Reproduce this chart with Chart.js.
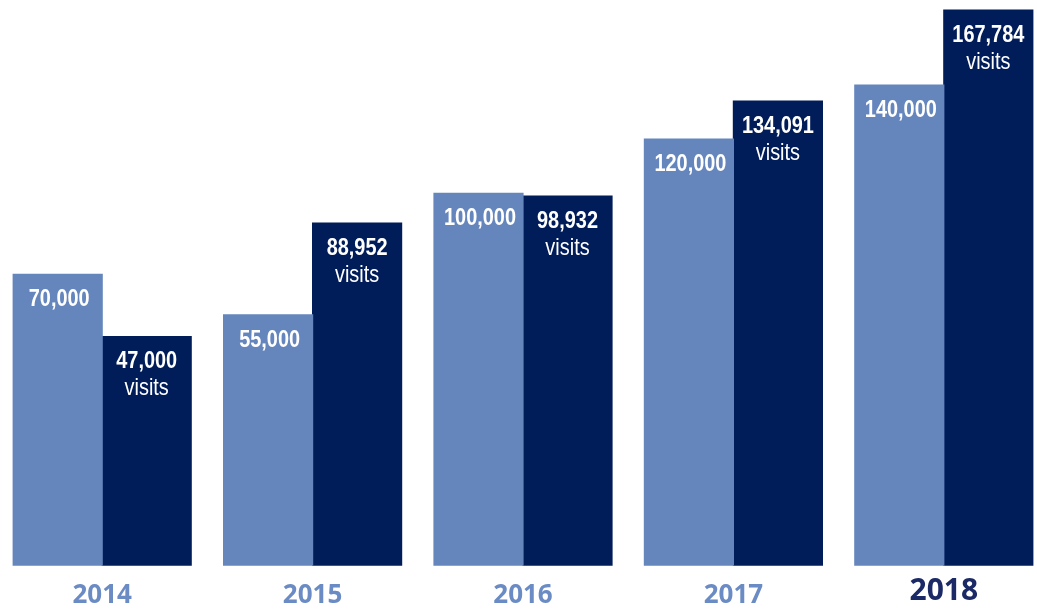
<!DOCTYPE html>
<html><head><meta charset="utf-8">
<script src="https://cdn.jsdelivr.net/npm/chart.js@4/dist/chart.umd.min.js"></script>
<style>
html,body{margin:0;padding:0;overflow:hidden;background:#fff;width:1037px;height:611px}
#wrap{position:absolute;left:-3px;top:0;width:1052px;height:611px}
</style></head><body><div id="wrap"><canvas id="c"></canvas></div>
<script>
const years = ['2014', '2015', '2016', '2017', '2018'];
const goalValues = [70000, 55000, 100000, 120000, 140000];
const visitValues = [47000, 88952, 98932, 134091, 167784];
const unitLabel = 'visits';

const LIGHT = '#6586BD';
const DARK = '#001C59';
const fmt = v => v.toLocaleString('en-US');
const LABEL_FONT = '"Liberation Sans", Arial, sans-serif';
const Y_MIN = -37850, Y_MAX = 171500;
const SQUEEZE = 0.83;

function condensedText(ctx, text, x, y) {
  ctx.save();
  ctx.translate(x, y);
  ctx.scale(SQUEEZE, 1);
  ctx.fillText(text, 0, 0);
  ctx.restore();
}

const barLabels = {
  id: 'barLabels',
  afterDatasetsDraw(chart) {
    const ctx = chart.ctx;
    ctx.save();
    ctx.fillStyle = '#ffffff';
    ctx.textAlign = 'center';
    ctx.textBaseline = 'alphabetic';
    chart.data.datasets.forEach((ds, di) => {
      const meta = chart.getDatasetMeta(di);
      meta.data.forEach((el, i) => {
        ctx.font = 'bold 24px ' + LABEL_FONT;
        condensedText(ctx, fmt(ds.data[i]), el.x + (di === 0 ? 1.5 : 0), el.y + 32);
        if (di === 1) {
          ctx.font = 'normal 24px ' + LABEL_FONT;
          condensedText(ctx, unitLabel, el.x, el.y + 59);
        }
      });
    });
    ctx.restore();
  }
};

new Chart(document.getElementById('c'), {
  type: 'bar',
  data: {
    labels: years,
    datasets: [
      { label: 'Goal', data: goalValues, backgroundColor: LIGHT, base: Y_MIN, borderWidth: 0, inflateAmount: 0.6 },
      { label: 'Visits', data: visitValues, backgroundColor: DARK, base: Y_MIN, borderWidth: 0, inflateAmount: 0.6 }
    ]
  },
  options: {
    responsive: true,
    maintainAspectRatio: false,
    devicePixelRatio: 1,
    animation: false,
    categoryPercentage: 0.846,
    barPercentage: 1.0,
    layout: { padding: { top: 0, bottom: -14, left: 0, right: 0 } },
    plugins: { legend: { display: false }, tooltip: { enabled: false } },
    scales: {
      x: {
        grid: { display: false, drawTicks: false },
        border: { display: false },
        ticks: {
          padding: 14,
          color: (c) => c.index === 4 ? '#1B2A66' : '#6A8BC3',
          font: (c) => c.index === 4
            ? { family: '"Open Sans", sans-serif', size: 30, weight: 'bold', lineHeight: 0.77 }
            : { family: '"Open Sans", sans-serif', size: 26, weight: 'bold', lineHeight: 1.2 }
        }
      },
      y: { display: false, min: Y_MIN, max: Y_MAX }
    }
  },
  plugins: [barLabels]
});
</script></body></html>
